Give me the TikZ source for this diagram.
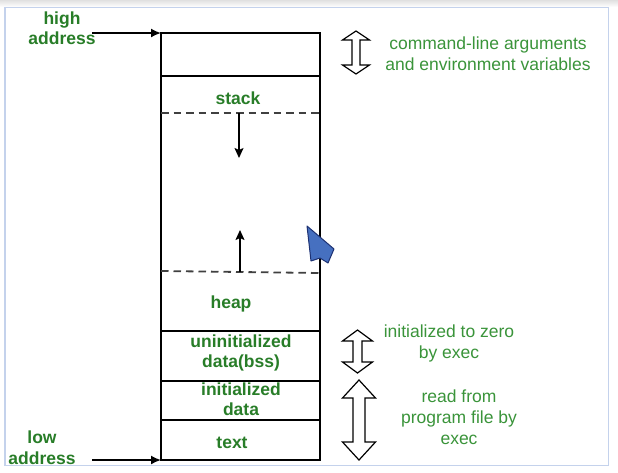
\documentclass[tikz,border=0pt]{standalone}
\usepackage{fontspec}
\setmainfont{Liberation Sans}
\usetikzlibrary{arrows.meta}
\definecolor{lblgreen}{RGB}{40,125,40}
\definecolor{notegreen}{RGB}{58,148,58}
\definecolor{framecol}{RGB}{196,210,236}
\definecolor{curfill}{RGB}{70,112,192}
\definecolor{curdraw}{RGB}{30,50,115}
\newcommand{\hollowdbl}[6]{% x, ytop, ybot, head half-width, shaft half-width, head length
  \draw[hollow] (#1,#2) -- ++(#4,#6) -- ++(-#4+#5,0) -- (#1+#5,#3-#6) -- ++(#4-#5,0)
    -- (#1,#3) -- ++(-#4,-#6) -- ++(#4-#5,0) -- (#1-#5,#2+#6) -- ++(-#4+#5,0) -- cycle;}
\begin{document}
\begin{tikzpicture}[x=1pt,y=-1pt,
  lbl/.style={font=\fontsize{17.5}{20.5}\selectfont\bfseries, text=lblgreen, inner sep=0pt, anchor=base},
  note/.style={font=\fontsize{17.5}{20.5}\selectfont, text=notegreen, inner sep=0pt, anchor=base},
  cell/.style={draw=black, line width=2pt, minimum width=159pt, inner sep=0pt, outer sep=0pt, anchor=north west},
  dashsep/.style={draw=black!75, line width=1.8pt, dash pattern=on 7.5pt off 5pt},
  growarrow/.style={draw=black, line width=1.5pt, -{Stealth[length=10pt,width=9pt,inset=2pt]}},
  addrarrow/.style={draw=black, line width=1.6pt, -{Latex[length=10pt,width=9pt]}},
  hollow/.style={draw=black, line width=1.2pt, fill=white, line join=miter}]
\useasboundingbox (0,0) rectangle (618,472);
\fill[white] (0,0) rectangle (618,472);
\shade[top color=black!12, bottom color=white] (0,0) rectangle (618,7);
\draw[framecol, line width=1.6pt] (5,7.5) rectangle (608.5,465.5);

% memory cells
\node[cell, minimum height=43pt]  (args)  at (161,33)  {};
\node[cell, minimum height=255pt] (dyn)   at (161,76)  {};
\node[cell, minimum height=50pt]  (bss)   at (161,331) {};
\node[cell, minimum height=39pt]  (init)  at (161,381) {};
\node[cell, minimum height=40pt]  (txt)   at (161,420) {};

% dashed boundaries of stack and heap
\coordinate (sl) at (161,113); \coordinate (sr) at (320,113);
\coordinate (hl) at (161,271); \coordinate (hr) at (320,273);
\draw[dashsep] (sl) -- (sr);
\draw[dashsep] (hl) -- (hr);
\coordinate (sa) at (239,113); \coordinate (sb) at (239,158);
\coordinate (ha) at (240,271.5); \coordinate (hb) at (240,230);
\draw[growarrow] (sa) -- (sb);
\draw[growarrow] (ha) -- (hb);

% labels in cells
\node[lbl] (lstack) at (238,104) {stack};
\node[lbl] (lheap)  at (231,308.5) {heap};
\node[lbl] (lbss1)  at (241,347.5) {uninitialized};
\node[lbl] (lbss2)  at (241,367.5) {data(bss)};
\node[lbl] (linit1) at (241,395.5) {initialized};
\node[lbl] (linit2) at (241,415.5) {data};
\node[lbl] (ltext)  at (232,448) {text};

% address labels
\node[lbl] (high1) at (62,24) {high};
\node[lbl] (high2) at (62,44.5) {address};
\node[lbl] (low1)  at (42,443.5) {low};
\node[lbl] (low2)  at (42,464) {address};
\coordinate (hs) at (92,33);
\coordinate (ls) at (92,460);
\draw[addrarrow] (hs) -- (args.north west);
\draw[addrarrow] (ls) -- (txt.south west);

% hollow double arrows
\hollowdbl{356}{31}{74}{13.5}{4}{9}
\hollowdbl{357.5}{330}{373}{15}{4.5}{11}
\hollowdbl{359}{380}{460}{16.5}{6}{18}

% notes
\node[note] (n1a) at (488,49.5) {command-line arguments};
\node[note] (n1b) at (488,70.5) {and environment variables};
\node[note] (n2a) at (449,337.5) {initialized to zero};
\node[note] (n2b) at (449,358.5) {by exec};
\node[note] (n3a) at (459,402.5) {read from};
\node[note] (n3b) at (459,423.5) {program file by};
\node[note] (n3c) at (459,444) {exec};

% mouse cursor
\draw[curdraw, line width=1pt, fill=curfill, line join=round]
  (307,226) -- (334,249) -- (328,263) -- (320,258) -- (311,261) -- cycle;
\end{tikzpicture}
\end{document}
